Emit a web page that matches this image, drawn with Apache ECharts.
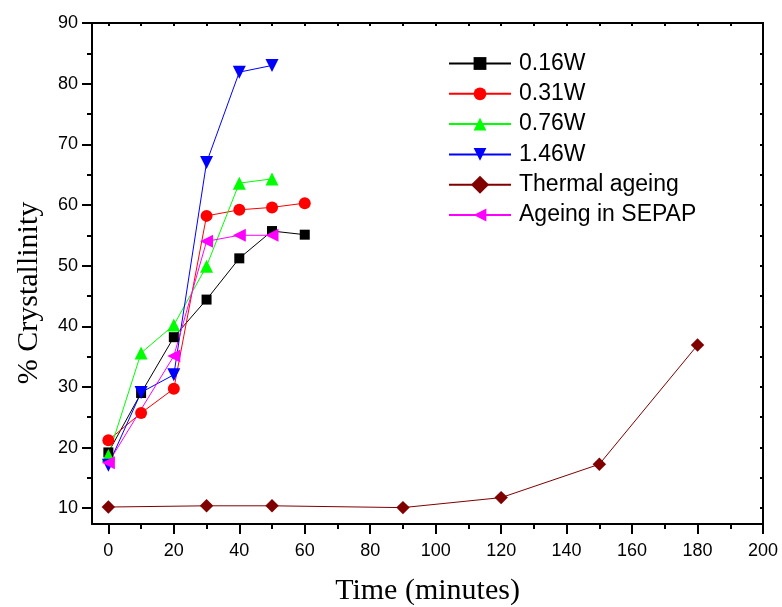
<!DOCTYPE html>
<html><head><meta charset="utf-8">
<script src="https://cdn.jsdelivr.net/npm/echarts@6/dist/echarts.min.js"></script>
<style>html,body{margin:0;padding:0;background:#fff}#c{width:782px;height:607px}</style>
</head><body><div id="c"></div>
<script>
var timeA = [0, 10, 20, 30, 40, 50, 60];
var w016 = [19.2, 29.0, 38.2, 44.4, 51.2, 55.7, 55.1];
var w031 = [21.2, 25.7, 29.7, 58.2, 59.2, 59.6, 60.3];
var timeB = [0, 10, 20, 30, 40, 50];
var w076 = [18.7, 35.6, 40.2, 49.9, 63.6, 64.3];
var w146 = [17.1, 29.1, 32.0, 67.0, 81.9, 83.0];
var timeSepap = [0, 20, 30, 40, 50];
var sepap = [17.5, 35.1, 54.0, 55.0, 55.0];
var timeThermal = [0, 30, 50, 90, 120, 150, 180];
var thermal = [10.2, 10.4, 10.4, 10.1, 11.75, 17.25, 36.9];
var xMajor = [0, 20, 40, 60, 80, 100, 120, 140, 160, 180, 200];
var yMajor = [10, 20, 30, 40, 50, 60, 70, 80, 90];
var names = ['0.16W', '0.31W', '0.76W', '1.46W', 'Thermal ageing', 'Ageing in SEPAP'];

var X_MIN = -5, X_MAX = 200, Y_MIN = 7.4, Y_MAX = 90;
var G = { left: 92, right: 19, top: 23, bottom: 83 };
var W = 782 - G.left - G.right, H = 607 - G.top - G.bottom;
// minor-tick grids share the same pixel scale as the main grid
var leftAt0 = G.left + (0 - X_MIN) / (X_MAX - X_MIN) * W;
var bottomAt10 = G.bottom + (10 - Y_MIN) / (Y_MAX - Y_MIN) * H;

function pairs(xs, ys) { return xs.map(function (x, i) { return [x, ys[i]]; }); }
var lab = { fontFamily: 'Liberation Sans, Arial', fontSize: 18, color: '#000' };
var axLine = { show: true, onZero: false, lineStyle: { color: '#000', width: 2 } };
function gridOf(o) { return Object.assign({ containLabel: false, outerBoundsMode: 'none' }, G, o || {}); }
var hidden = { show: false };

function ser(name, xs, ys, color, symbol, size, rot) {
  return {
    name: name, type: 'line', data: pairs(xs, ys), symbol: symbol, symbolSize: size,
    symbolRotate: rot || 0, showSymbol: true, xAxisIndex: 0, yAxisIndex: 0,
    lineStyle: { color: color, width: 1 }, itemStyle: { color: color },
    emphasis: { disabled: true }, animation: false, z: 5
  };
}

var chart = echarts.init(document.getElementById('c'), null, { renderer: 'canvas' });
chart.setOption({
  backgroundColor: '#fff',
  animation: false,
  grid: [gridOf(), gridOf({ left: leftAt0 }), gridOf({ bottom: bottomAt10 })],
  legend: {
    data: names, orient: 'vertical', left: 448, top: 52, padding: 0,
    itemWidth: 62, itemHeight: 16, itemGap: 7.3,
    textStyle: { fontFamily: 'Liberation Sans, Arial', fontSize: 23, color: '#000', padding: [0, 0, 0, 3] },
    selectedMode: false
  },
  xAxis: [
    { gridIndex: 0, type: 'value', position: 'bottom', min: X_MIN, max: X_MAX,
      name: 'Time (minutes)', nameLocation: 'middle', nameGap: 52,
      nameTextStyle: { fontFamily: 'Liberation Serif, Times New Roman', fontSize: 30, color: '#000' },
      axisLine: axLine,
      axisTick: { show: true, inside: false, length: 10, customValues: xMajor, lineStyle: { color: '#000', width: 2 } },
      axisLabel: Object.assign({ customValues: xMajor, margin: 18 }, lab),
      splitLine: { show: false } },
    { gridIndex: 0, type: 'value', position: 'top', min: X_MIN, max: X_MAX,
      axisLine: axLine, axisTick: hidden, axisLabel: hidden, splitLine: hidden },
    { gridIndex: 1, type: 'value', position: 'bottom', min: 0, max: 200, interval: 10,
      axisLine: axLine,
      axisTick: { show: true, inside: false, length: 5, lineStyle: { color: '#000', width: 2 } },
      axisLabel: hidden, splitLine: hidden },
    { gridIndex: 1, type: 'value', position: 'top', min: 0, max: 200, interval: 10,
      axisLine: axLine,
      axisTick: { show: true, inside: true, length: 3, lineStyle: { color: '#000', width: 2 } },
      axisLabel: hidden, splitLine: hidden },
    { gridIndex: 2, type: 'value', min: X_MIN, max: X_MAX, show: false }
  ],
  yAxis: [
    { gridIndex: 0, type: 'value', position: 'left', min: Y_MIN, max: Y_MAX,
      axisLine: axLine,
      axisTick: { show: true, inside: false, length: 10, customValues: yMajor, lineStyle: { color: '#000', width: 2 } },
      axisLabel: Object.assign({ customValues: yMajor, margin: 14 }, lab),
      splitLine: { show: false } },
    { gridIndex: 0, type: 'value', position: 'right', min: Y_MIN, max: Y_MAX,
      axisLine: axLine, axisTick: hidden, axisLabel: hidden, splitLine: hidden },
    { gridIndex: 1, type: 'value', min: Y_MIN, max: Y_MAX, show: false },
    { gridIndex: 2, type: 'value', position: 'left', min: 10, max: 90, interval: 5,
      axisLine: axLine,
      axisTick: { show: true, inside: false, length: 5, lineStyle: { color: '#000', width: 2 } },
      axisLabel: hidden, splitLine: hidden },
    { gridIndex: 2, type: 'value', position: 'right', min: 10, max: 90, interval: 5,
      axisLine: axLine,
      axisTick: { show: true, inside: true, length: 3, lineStyle: { color: '#000', width: 2 } },
      axisLabel: hidden, splitLine: hidden }
  ],
  graphic: [{
    type: 'text', x: 29, y: 293, rotation: Math.PI / 2,
    style: { text: '% Crystallinity', fontFamily: 'Liberation Serif, Times New Roman', fontSize: 30, fill: '#000',
      textAlign: 'center', textVerticalAlign: 'middle' }
  }],
  series: [
    ser(names[0], timeA, w016, '#000000', 'rect', 10),
    ser(names[1], timeA, w031, '#FF0000', 'circle', 12),
    ser(names[2], timeB, w076, '#00FF00', 'triangle', 13),
    ser(names[3], timeB, w146, '#0000FF', 'triangle', 13, 180),
    ser(names[4], timeThermal, thermal, '#800000', 'rect', 9.5, 45),
    ser(names[5], timeSepap, sepap, '#FF00FF', 'triangle', 13, 90),
    { type: 'line', xAxisIndex: 2, yAxisIndex: 2, data: [], silent: true, showSymbol: false },
    { type: 'line', xAxisIndex: 4, yAxisIndex: 3, data: [], silent: true, showSymbol: false }
  ]
});
</script></body></html>
